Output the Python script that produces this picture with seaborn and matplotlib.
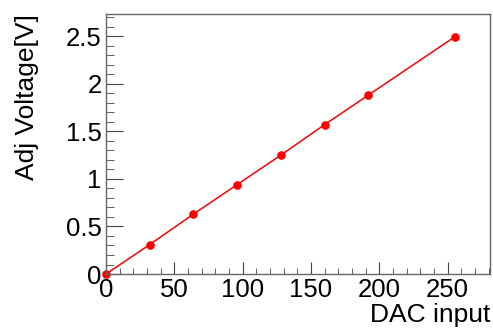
import pandas as pd
import seaborn as sns
import matplotlib.pyplot as plt
from matplotlib.ticker import MultipleLocator

# DAC scan readings
dac_input = [0, 32, 64, 96, 128, 160, 192, 255]
adj_voltage = [0.0, 0.31, 0.63, 0.94, 1.25, 1.57, 1.88, 2.49]

data = pd.DataFrame({'dac': dac_input, 'volt': adj_voltage})

sns.set_style('ticks')
plt.rcParams['font.family'] = ['Liberation Sans', 'DejaVu Sans']
plt.rcParams['text.color'] = 'black'
plt.rcParams['axes.labelcolor'] = 'black'

fig, ax = plt.subplots(figsize=(4.93, 3.29), dpi=100)
fig.subplots_adjust(left=0.215, right=0.994, top=0.957, bottom=0.167)

sns.lineplot(data=data, x='dac', y='volt', ax=ax, color='#ff0000',
             marker='o', markersize=6.2, markeredgewidth=0, linewidth=1.1)
for line in ax.lines:
    line.set_clip_on(False)

ax.set_xlim(0, 281)
ax.set_ylim(0, 2.73)
ax.xaxis.set_major_locator(MultipleLocator(50))
ax.xaxis.set_minor_locator(MultipleLocator(10))
ax.yaxis.set_major_locator(MultipleLocator(0.5))
ax.yaxis.set_minor_locator(MultipleLocator(0.1))
ax.set_yticks([0, 0.5, 1, 1.5, 2, 2.5], ['0', '0.5', '1', '1.5', '2', '2.5'])

ax.tick_params(which='both', direction='in', top=False, right=False,
               labelsize=18.5, color='#444444', labelcolor='black')
ax.tick_params(axis='x', which='major', length=9, pad=3)
ax.tick_params(axis='y', which='major', length=12, pad=3)
ax.tick_params(axis='x', which='minor', length=4.5)
ax.tick_params(axis='y', which='minor', length=6)

for side in ax.spines:
    ax.spines[side].set_visible(True)
    ax.spines[side].set_color('#666666')
    ax.spines[side].set_linewidth(1.0)

ax.set_xlabel('DAC input', fontsize=19, loc='right')
ax.set_ylabel('Adj Voltage[V]', fontsize=19, loc='top')
ax.xaxis.set_label_coords(1.0, -0.11)
ax.yaxis.set_label_coords(-0.175, 1.0)

fig.savefig('out.png', dpi=100)
